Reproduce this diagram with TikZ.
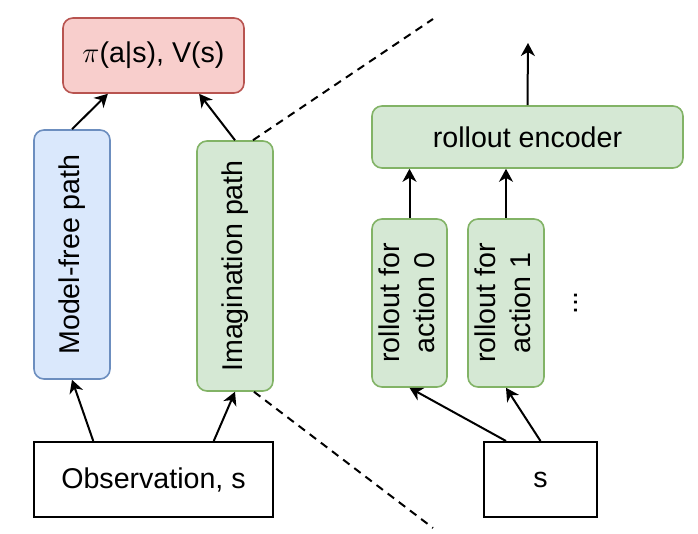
\documentclass[tikz,border=0pt]{standalone}
\usepackage{fontspec}
\setmainfont{Liberation Sans}
\usepackage{graphicx}
\usetikzlibrary{arrows.meta, positioning, calc}
\definecolor{redfill}{HTML}{F8CECC}
\definecolor{redline}{HTML}{B85450}
\definecolor{bluefill}{HTML}{DAE8FC}
\definecolor{blueline}{HTML}{6C8EBF}
\definecolor{greenfill}{HTML}{D5E8D4}
\definecolor{greenline}{HTML}{82B366}

\begin{document}
\begin{tikzpicture}[x=0.5pt, y=-0.5pt,
  every node/.style={font=\fontsize{14.3}{17.5}\selectfont, inner sep=0pt},
  rbox/.style={draw, line width=0.8pt, rounded corners=5pt},
  plainbox/.style={draw, line width=1pt},
  arr/.style={-{Stealth[length=6.5pt, width=7pt, inset=2pt]}, line width=1pt},
  zoomline/.style={dash pattern=on 4pt off 3pt, line width=1pt}]
  \useasboundingbox (0,0) rectangle (698,534);

  % left: the whole agent
  \node[rbox, draw=redline, fill=redfill, minimum width=90.5pt, minimum height=37.5pt] (pol) at (153.5,55.5) {$\pi$(a|s), V(s)};
  \node[rbox, draw=blueline, fill=bluefill, minimum width=38pt, minimum height=124.5pt] (mf) at (72,254.5) {\rotatebox{90}{Model-free path}};
  \node[rbox, draw=greenline, fill=greenfill, minimum width=38pt, minimum height=125pt] (imag) at (235,266) {\rotatebox{90}{Imagination path}};
  \node[plainbox, minimum width=119.5pt, minimum height=37.5pt] (obs) at (153.5,479.5) {Observation, s};

  \draw[arr] (mf.north) -- ($(pol.south west)!0.25!(pol.south east)$);
  \draw[arr] (imag.north) -- ($(pol.south west)!0.75!(pol.south east)$);
  \draw[arr] ($(obs.north west)!0.25!(obs.north east)$) -- (mf.south);
  \draw[arr] ($(obs.north west)!0.75!(obs.north east)$) -- (imag.south);

  % right: inside the imagination path
  \node[rbox, draw=greenline, fill=greenfill, minimum width=155.5pt, minimum height=31pt] (enc) at (527.5,137) {rollout encoder};
  \node[rbox, draw=greenline, fill=greenfill, minimum width=37.5pt, minimum height=84pt] (r0) at (409.5,303) {\rotatebox{90}{\begin{tabular}{@{}c@{}}rollout for\\action 0\end{tabular}}};
  \node[rbox, draw=greenline, fill=greenfill, minimum width=38pt, minimum height=84pt] (r1) at (506,303) {\rotatebox{90}{\begin{tabular}{@{}c@{}}rollout for\\action 1\end{tabular}}};
  \node (more) at (576,303) {\rotatebox{90}{...}};
  \node[plainbox, minimum width=56.5pt, minimum height=37.5pt] (s) at (540.5,479.5) {s};
  \coordinate (out) at (528,43);

  \draw[arr] (r0.north) -- (r0.north |- enc.south);
  \draw[arr] (r1.north) -- (r1.north |- enc.south);
  \draw[arr] (enc.north) -- (out);
  \draw[arr] ($(s.north west)!0.2!(s.north east)$) -- (r0.south);
  \draw[arr] (s.north) -- (r1.south);

  % zoom lines
  \coordinate (zt) at (433,19);
  \coordinate (zb) at (433,528);
  \draw[zoomline] ($(imag.north)+(18,0)$) -- (zt);
  \draw[zoomline] ($(imag.south)+(19,0)$) -- (zb);
\end{tikzpicture}
\end{document}
